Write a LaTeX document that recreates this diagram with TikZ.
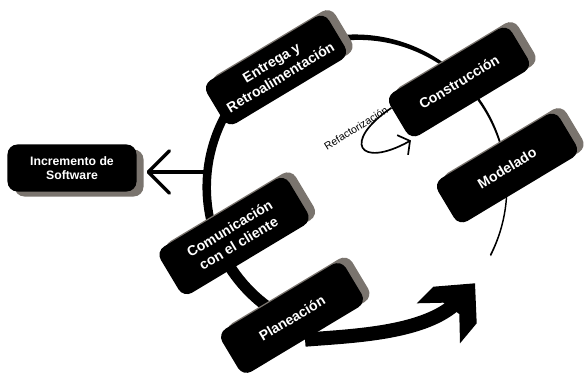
\documentclass[tikz,border=0pt]{standalone}
\usepackage{fontspec}
\setsansfont{Liberation Sans}
\usetikzlibrary{arrows.meta, calc, backgrounds}

\definecolor{shadowgray}{RGB}{122,116,110}

\begin{document}
\begin{tikzpicture}[
  x=0.025cm, y=0.025cm,
  box/.style={fill=black, text=white, rounded corners=7pt, align=center,
    font=\sffamily\bfseries\fontsize{10}{12.5}\selectfont},
  stage/.style={box, rotate=31, minimum width=3.55cm, minimum height=1.25cm},
  outbox/.style={box, minimum width=3.225cm, minimum height=1.175cm,
    font=\sffamily\bfseries\fontsize{8.7}{10}\selectfont},
  shade/.style={fill=shadowgray}
]
\useasboundingbox (0,0) rectangle (587,378);

% ---- cycle ring, thinning out towards the right ----
\fill (355,191) ++(226:3.8125cm)
  arc[start angle=226, end angle=-27, radius=3.8125cm]
  -- ($(358.5,190.5)+(-27:3.6875cm)$)
  arc[start angle=-27, end angle=226, radius=3.6875cm] -- cycle;
\draw[line width=8pt] (355,191) ++(210:3.71cm)
  arc[start angle=210, end angle=245, radius=3.71cm];
\coordinate (ringW) at (207,206);
\coordinate (tip) at (454,73);

% ---- shadows ----
\node[stage, shade] (ent-s) at (282.5,313.5) {};
\node[stage, shade] (cons-s) at (465.5,301.5) {};
\node[stage, shade] (mod-s) at (513.5,215.5) {};
\node[stage, shade, minimum width=3.75cm, minimum height=1.35cm] (com-s)
  at (240.5,147.5) {};
\node[stage, shade, minimum width=3.6cm] (plan-s) at (298.5,65.5) {};
\node[outbox, shade] (inc-s) at (79,205) {};

% ---- stages ----
\node[stage] (ent) at (276,308) {Entrega y\\Retroalimentación};
\node[stage] (cons) at (459,296) {Construcción};
\node[stage] (mod) at (507,210) {Modelado};
\node[stage, minimum width=3.75cm, minimum height=1.35cm] (com)
  at (234,142) {Comunicación\\con el cliente};
\node[stage, minimum width=3.6cm] (plan) at (292,60) {Planeación};
\node[outbox] (inc) at (72,210) {Incremento de\\Software};

% ---- big arrow out of Planeacion ----
\begin{scope}[on background layer]
  \fill[white] (0,0) rectangle (587,378);
  \draw[line width=10pt] (plan.south) .. controls (350,42) and (420,44) .. (tip);
\end{scope}
\fill (416.7,74.7) -- (433.3,91.3) -- (475,94.7) -- (476.7,54.7)
  -- (460,34.7) -- (459.3,64) -- (443.3,75.3) -- cycle;

% ---- increment goes out ----
\draw[line width=2.4pt, -{Straight Barb[length=15pt,width=30pt,round]},
  shorten >=7pt] (ringW) -- (ringW -| inc.east);

% ---- refactoring loop ----
\draw[line width=1.2pt, -{Straight Barb[length=6pt,width=16pt]}]
  ($(cons.west)!.5!(cons.north west)$) to[out=214, in=209, distance=1.5cm]
  (cons.south west);
\node[font=\sffamily\fontsize{7.5}{9}\selectfont, rotate=32] (refl)
  at (356,250) {Refactorización};
\end{tikzpicture}
\end{document}
